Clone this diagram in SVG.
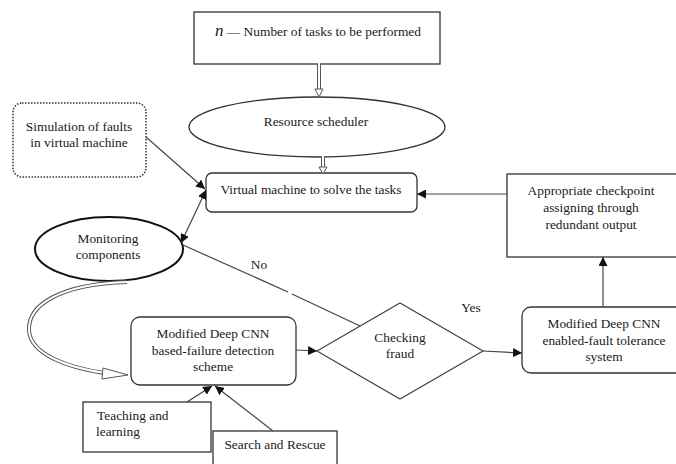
<svg xmlns="http://www.w3.org/2000/svg" width="676" height="464" viewBox="0 0 676 464">
<defs>
<style>
.t{font-family:"Liberation Serif","Times New Roman",serif;font-size:13.4px;fill:#1a1a1a;text-anchor:middle}
.ts{font-family:"Liberation Serif","Times New Roman",serif;font-size:13.4px;fill:#1a1a1a;text-anchor:start}
.box{fill:#fff;stroke:#333;stroke-width:1.3}
.ln{fill:none;stroke:#444;stroke-width:1.2}
.ho{fill:none;stroke:#555;stroke-width:4}
.hi{fill:none;stroke:#fff;stroke-width:2}
.hh{fill:#fff;stroke:#555;stroke-width:1}
</style>
<marker id="ah" viewBox="0 0 10 10" refX="10" refY="5" markerWidth="9" markerHeight="9" markerUnits="userSpaceOnUse" orient="auto-start-reverse">
<path d="M0,0 L10,5 L0,10 Z" fill="#111"/>
</marker>
</defs>
<rect width="676" height="464" fill="#fff"/>

<g id="tasks">
<rect class="box" x="194" y="12" width="246" height="52"/>
<text class="t" x="318" y="36"><tspan font-style="italic" font-size="17">n</tspan> — Number of tasks to be performed</text>
</g>
<g id="scheduler">
<ellipse class="box" cx="317" cy="127" rx="128" ry="30"/>
<text class="t" x="316" y="126">Resource scheduler</text>
</g>
<g id="vm">
<rect class="box" x="206" y="173" width="211" height="39" rx="6"/>
<text class="t" x="311" y="194">Virtual machine to solve the tasks</text>
</g>
<g id="simulation">
<rect x="13" y="103" width="133" height="74" rx="9" fill="#fff" stroke="#333" stroke-width="1.5" stroke-dasharray="1.5,1.5"/>
<text class="t" x="79" y="131">Simulation of faults</text>
<text class="t" x="79" y="147">in virtual machine</text>
</g>
<g id="monitoring">
<ellipse cx="109" cy="249" rx="74" ry="32" fill="#fff" stroke="#111" stroke-width="2"/>
<text class="t" x="108" y="243">Monitoring</text>
<text class="t" x="108" y="259">components</text>
</g>
<g id="detection">
<rect class="box" x="131" y="317" width="165" height="68" rx="9"/>
<text class="t" x="213" y="338">Modified Deep CNN</text>
<text class="t" x="213" y="355">based-failure detection</text>
<text class="t" x="213" y="371">scheme</text>
</g>
<g id="fraud">
<polygon points="317,351 400,303 483,351 400,399" fill="#fff" stroke="#444" stroke-width="1.2"/>
<text class="t" x="400" y="342">Checking</text>
<text class="t" x="400" y="358">fraud</text>
</g>
<g id="tolerance">
<rect class="box" x="522" y="307" width="170" height="66" rx="9"/>
<text class="t" x="604" y="328">Modified Deep CNN</text>
<text class="t" x="604" y="345">enabled-fault tolerance</text>
<text class="t" x="604" y="361">system</text>
</g>
<g id="checkpoint">
<rect class="box" x="507" y="174" width="180" height="83"/>
<text class="t" x="591" y="195">Appropriate checkpoint</text>
<text class="t" x="591" y="212">assigning through</text>
<text class="t" x="591" y="229">redundant output</text>
</g>
<g id="teaching">
<rect class="box" x="83" y="402" width="128" height="50"/>
<text class="ts" x="97" y="420">Teaching and</text>
<text class="ts" x="96" y="436">learning</text>
</g>
<g id="search">
<rect class="box" x="213" y="431" width="124" height="40"/>
<text class="t" x="275" y="449">Search and Rescue</text>
</g>

<g id="connectors">
<path class="ho" d="M319,64 V90"/><path class="hi" d="M319,63 V91"/>
<polygon class="hh" points="315,89 323,89 319,97"/>
<path class="ho" d="M323,157 V168"/><path class="hi" d="M323,156 V169"/>
<polygon class="hh" points="319,167 327,167 323,174"/>
<path class="ln" d="M146,137 L205,189" marker-end="url(#ah)"/>
<path class="ln" d="M181,243 L206,190" marker-start="url(#ah)" marker-end="url(#ah)"/>
<path class="ln" d="M183,245 L288,292 M292,294 L360,326"/>
<text class="t" x="259" y="269">No</text>
<text class="t" x="471" y="312">Yes</text>
<path class="ln" d="M296,350 L317,351" marker-end="url(#ah)"/>
<path class="ln" d="M483,351 L522,353" marker-end="url(#ah)"/>
<path class="ln" d="M603,307 V257" marker-end="url(#ah)"/>
<path class="ln" d="M507,194 L417,194" marker-end="url(#ah)"/>
<path class="ln" d="M187,402 L212,386" marker-end="url(#ah)"/>
<path class="ln" d="M273,431 L215,386" marker-end="url(#ah)"/>
<path class="ho" d="M127,282 C60,284 28,305 29,330 C30,355 70,368 104,373"/>
<path class="hi" d="M128,282 C60,284 28,305 29,330 C30,355 70,368 105,373"/>
<polygon class="hh" points="103,368 128,375 102,379"/>
</g>
</svg>
